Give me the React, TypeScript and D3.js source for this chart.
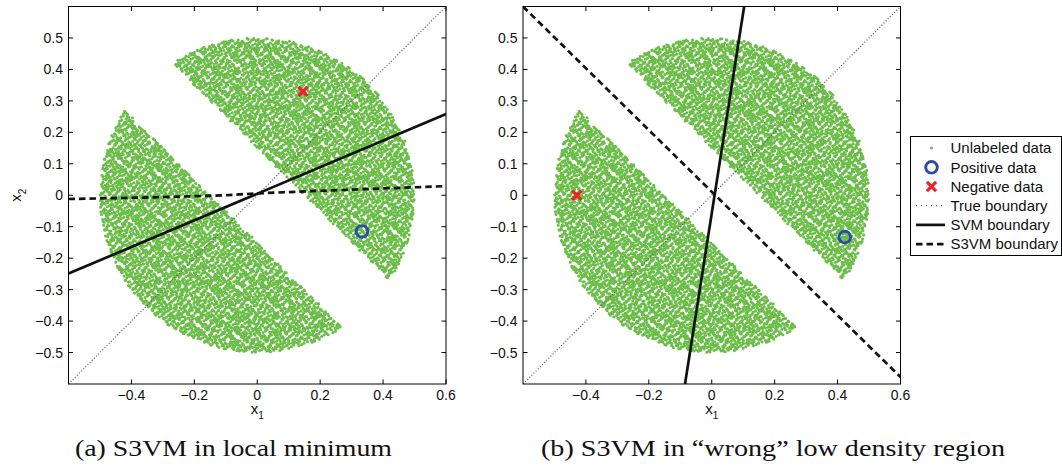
import React, { useMemo } from "react";
import * as d3 from "d3";

// ---- shared axis setup ----
const axisDomain: [number, number] = [-0.6, 0.6];
const xTicks = [-0.4, -0.2, 0, 0.2, 0.4, 0.6];
const yTicks = [-0.5, -0.4, -0.3, -0.2, -0.1, 0, 0.1, 0.2, 0.3, 0.4, 0.5];

// ---- unlabeled sample: disc of radius 0.5 split by the band |x1 + x2| < 0.15 ----
const discRadius = 0.5;
const gapHalfWidth = 0.15;
const sampleCount = 14000;

// ---- decision boundaries (x1, x2) ----
const trueBoundary: [number, number][] = [[-0.6, -0.6], [0.6, 0.6]];

const svmBoundaryA: [number, number][] = [[-0.6, -0.249], [0.6, 0.2585]];
const s3vmBoundaryA: [number, number][] = [
  [-0.6, -0.012], [-0.3, -0.006], [-0.1, 0.0], [0.0, 0.006],
  [0.12, 0.011], [0.3, 0.018], [0.6, 0.029],
];
const positiveA: [number, number][] = [[0.333, -0.115]];
const negativeA: [number, number][] = [[0.145, 0.33]];

const svmBoundaryB: [number, number][] = [[-0.085, -0.6], [0.103, 0.6]];
const s3vmBoundaryB: [number, number][] = [[-0.6, 0.6], [0.6, -0.578]];
const positiveB: [number, number][] = [[0.423, -0.133]];
const negativeB: [number, number][] = [[-0.429, 0.0]];

const legendLabels = [
  "Unlabeled data",
  "Positive data",
  "Negative data",
  "True boundary",
  "SVM boundary",
  "S3VM boundary",
];

const captions = [
  "(a) S3VM in local minimum",
  "(b) S3VM in \u201cwrong\u201d low density region",
];

const GREEN = "#6abd47";
const BLUE = "#2b4ea2";
const RED = "#e8262b";
const SANS = "'Liberation Sans', Arial, Helvetica, sans-serif";
const SERIF = "'Liberation Serif', 'Times New Roman', serif";

// radical-inverse (Halton) sequence: an even, deterministic cover of the region
function radicalInverse(i: number, base: number): number {
  let f = 1;
  let r = 0;
  let n = i;
  while (n > 0) {
    f /= base;
    r += f * (n % base);
    n = Math.floor(n / base);
  }
  return r;
}

function unlabeledPoints(): [number, number][] {
  const pts: [number, number][] = [];
  for (let i = 1; i <= sampleCount; i++) {
    const px = (radicalInverse(i, 2) - 0.5) * 2 * discRadius;
    const py = (radicalInverse(i, 3) - 0.5) * 2 * discRadius;
    if (px * px + py * py > discRadius * discRadius) continue;
    if (Math.abs(px + py) < gapHalfWidth) continue;
    pts.push([px, py]);
  }
  return pts;
}

type PanelProps = {
  id: string;
  left: number;
  top: number;
  size: number;
  points: [number, number][];
  svm: [number, number][];
  s3vm: [number, number][];
  positive: [number, number][];
  negative: [number, number][];
  showYLabel: boolean;
};

function fmt(v: number): string {
  const s = d3.format(".1f")(Math.abs(v));
  const t = v === 0 ? "0" : s;
  return v < 0 ? "\u2212" + t : t;
}

function Cross({ cx, cy, r, sw }: { cx: number; cy: number; r: number; sw: number }) {
  return (
    <g stroke={RED} strokeWidth={sw}>
      <line x1={cx - r} y1={cy - r} x2={cx + r} y2={cy + r} />
      <line x1={cx - r} y1={cy + r} x2={cx + r} y2={cy - r} />
    </g>
  );
}

function Panel(p: PanelProps) {
  const x = d3.scaleLinear().domain(axisDomain).range([0, p.size]);
  const y = d3.scaleLinear().domain(axisDomain).range([p.size, 0]);
  const line = d3.line<[number, number]>().x((d) => x(d[0])).y((d) => y(d[1]));

  const dotPath = useMemo(() => {
    const path = d3.path();
    const r = 1.55;
    for (const [a, b] of p.points) {
      const cx = x(a);
      const cy = y(b);
      path.moveTo(cx + r, cy);
      path.arc(cx, cy, r, 0, Math.PI * 2);
    }
    return path.toString();
  }, [p.points]);

  const tl = 4.5;
  return (
    <g transform={`translate(${p.left},${p.top})`}>
      <defs>
        <clipPath id={p.id}>
          <rect x={0} y={0} width={p.size} height={p.size} />
        </clipPath>
      </defs>
      <g clipPath={`url(#${p.id})`}>
        <path d={dotPath} fill={GREEN} />
        <path d={line(trueBoundary) || ""} fill="none" stroke="#555" strokeWidth={1.2} strokeDasharray="1 2" />
        <path d={line(p.svm) || ""} fill="none" stroke="#111" strokeWidth={2.7} />
        <path d={line(p.s3vm) || ""} fill="none" stroke="#111" strokeWidth={2.7} strokeDasharray="6.5 4" />
        {p.positive.map((d, i) => (
          <circle key={"p" + i} cx={x(d[0])} cy={y(d[1])} r={5.8} fill="none" stroke={BLUE} strokeWidth={2.9} />
        ))}
        {p.negative.map((d, i) => (
          <Cross key={"n" + i} cx={x(d[0])} cy={y(d[1])} r={4.6} sw={3.3} />
        ))}
      </g>
      {/* box and ticks */}
      <rect x={0} y={0} width={p.size} height={p.size} fill="none" stroke="#000" strokeWidth={1} />
      <g stroke="#000" strokeWidth={1}>
        {xTicks.map((t) => (
          <g key={"xt" + t}>
            <line x1={x(t)} x2={x(t)} y1={p.size} y2={p.size - tl} />
            <line x1={x(t)} x2={x(t)} y1={0} y2={tl} />
          </g>
        ))}
        {yTicks.map((t) => (
          <g key={"yt" + t}>
            <line x1={0} x2={tl} y1={y(t)} y2={y(t)} />
            <line x1={p.size} x2={p.size - tl} y1={y(t)} y2={y(t)} />
          </g>
        ))}
      </g>
      <g fontFamily={SANS} fontSize={14} fill="#111">
        {xTicks.map((t) => (
          <text key={"xl" + t} x={x(t)} y={p.size + 15.5} textAnchor="middle">
            {fmt(t)}
          </text>
        ))}
        {yTicks.map((t) => (
          <text key={"yl" + t} x={-5.5} y={y(t) + 5} textAnchor="end">
            {fmt(t)}
          </text>
        ))}
        <text x={p.size / 2} y={p.size + 30} textAnchor="middle" fontSize={15}>
          x<tspan fontSize={10} dy={5}>1</tspan>
        </text>
        {p.showYLabel && (
          <text transform={`translate(${-48},${p.size / 2}) rotate(-90)`} textAnchor="middle" fontSize={15}>
            x<tspan fontSize={10} dy={5}>2</tspan>
          </text>
        )}
      </g>
    </g>
  );
}

function Legend({ left, top }: { left: number; top: number }) {
  const rowH = 19.2;
  const y0 = 11.6;
  const sx = 21;
  const lx0 = 5.5;
  const lx1 = 34.5;
  const tx = 40;
  return (
    <g transform={`translate(${left},${top})`}>
      <rect x={0} y={0} width={151} height={119} fill="#fff" stroke="#000" strokeWidth={1} />
      <circle cx={sx} cy={y0} r={1.5} fill={GREEN} />
      <circle cx={sx} cy={y0 + rowH} r={5.8} fill="none" stroke={BLUE} strokeWidth={2.9} />
      <Cross cx={sx} cy={y0 + rowH * 2} r={4.6} sw={3.3} />
      <line x1={lx0} x2={lx1} y1={y0 + rowH * 3} y2={y0 + rowH * 3} stroke="#555" strokeWidth={1.2} strokeDasharray="1 4" />
      <line x1={lx0} x2={lx1} y1={y0 + rowH * 4} y2={y0 + rowH * 4} stroke="#111" strokeWidth={2.7} />
      <line x1={lx0} x2={lx1} y1={y0 + rowH * 5} y2={y0 + rowH * 5} stroke="#111" strokeWidth={2.7} strokeDasharray="6.5 4" />
      <g fontFamily={SANS} fontSize={15} fill="#111">
        {legendLabels.map((l, i) => (
          <text key={l} x={tx} y={y0 + rowH * i + 5.3}>
            {l}
          </text>
        ))}
      </g>
    </g>
  );
}

export default function App() {
  const points = useMemo(() => unlabeledPoints(), []);
  const size = 377.5;
  return (
    <svg width={1062} height={467} style={{ position: "absolute", left: 0, top: 0, background: "#fff" }}>
      <rect x={0} y={0} width={1062} height={467} fill="#fff" />
      <Panel
        id="clipA"
        left={68.5}
        top={6.5}
        size={size}
        points={points}
        svm={svmBoundaryA}
        s3vm={s3vmBoundaryA}
        positive={positiveA}
        negative={negativeA}
        showYLabel={true}
      />
      <Panel
        id="clipB"
        left={523}
        top={6.5}
        size={size}
        points={points}
        svm={svmBoundaryB}
        s3vm={s3vmBoundaryB}
        positive={positiveB}
        negative={negativeB}
        showYLabel={false}
      />
      <Legend left={910.5} top={136.5} />
      <g fontFamily={SERIF} fontSize={24} fill="#111">
        <text x={75} y={456} textLength={317} lengthAdjust="spacingAndGlyphs">
          {captions[0]}
        </text>
        <text x={541} y={456} textLength={464} lengthAdjust="spacingAndGlyphs">
          {captions[1]}
        </text>
      </g>
    </svg>
  );
}
